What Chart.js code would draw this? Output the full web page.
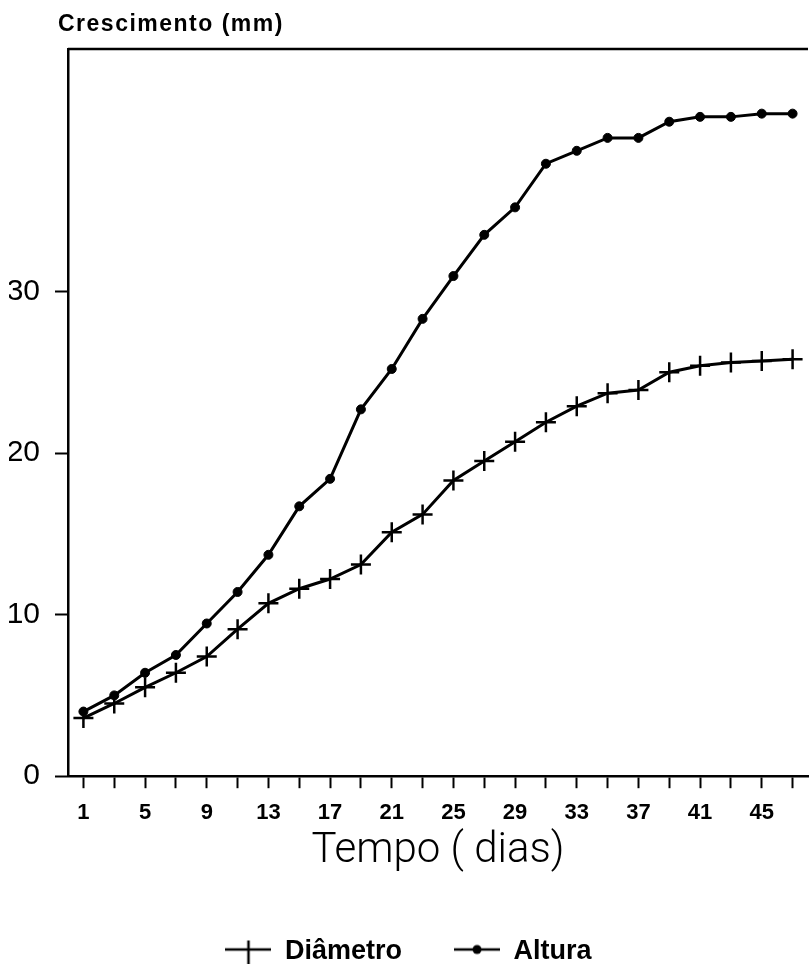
<!DOCTYPE html>
<html>
<head>
<meta charset="utf-8">
<script src="https://cdn.jsdelivr.net/npm/chart.js@4"></script>
<style>
body{margin:0;background:#fff}
</style>
</head>
<body>
<canvas id="grafico" width="812" height="964"></canvas>
<script>
// dias de medicao (um ponto a cada 2 dias)
const dias = [1,3,5,7,9,11,13,15,17,19,21,23,25,27,29,31,33,35,37,39,41,43,45,47]
const diametro = [3.6,4.5,5.5,6.4,7.4,9.1,10.7,11.6,12.2,13.1,15.1,16.2,18.3,19.5,20.7,21.9,22.9,23.7,23.9,25.0,25.4,25.6,25.7,25.8]
const altura = [4.0,5.0,6.4,7.5,9.45,11.4,13.7,16.7,18.4,22.7,25.2,28.3,30.95,33.5,35.2,37.9,38.7,39.5,39.5,40.5,40.8,40.8,41.0,41.0]
const rotulosX = [1,5,9,13,17,21,25,29,33,37,41,45]
const rotulosY = [0,10,20,30]
const titulo = "Crescimento (mm)"
const tituloX = "Tempo ( dias)"

function simbolo(tipo){
    let c=document.createElement('canvas')
    c.width=46; c.height=28
    let g=c.getContext('2d')
    g.strokeStyle='#000'; g.fillStyle='#000'; g.lineWidth=2.5
    g.beginPath(); g.moveTo(0,12); g.lineTo(46,12); g.stroke()
    if(tipo=='cruz'){
        g.beginPath(); g.moveTo(23,3); g.lineTo(23,27); g.stroke()
    } else {
        g.beginPath(); g.arc(23,12,4.5,0,Math.PI*2); g.fill()
    }
    return c
}
const simbolos=[simbolo('cruz'),simbolo('ponto')]

// linha de cima do quadro + titulo do eixo y
const moldura = {
    id: 'moldura',
    afterDraw(chart){
        const {ctx, chartArea} = chart
        ctx.save()
        ctx.strokeStyle='#000'
        ctx.lineWidth=2.5
        ctx.beginPath()
        ctx.moveTo(chartArea.left, chartArea.top)
        ctx.lineTo(chartArea.right, chartArea.top)
        ctx.stroke()
        ctx.font='bold 23px "Liberation Sans"'
        ctx.letterSpacing='1.5px'
        ctx.fillStyle='#000'
        ctx.textBaseline='middle'
        ctx.fillText(titulo, 58, 25)
        ctx.restore()
    }
}

new Chart("grafico", {
    type: "line",
    data: {
        datasets: [{
            label: "Diâmetro",
            data: dias.map((d,i)=>({x:d, y:diametro[i]})),
            borderColor: "#000",
            backgroundColor: "#000",
            borderWidth: 3,
            pointStyle: "cross",
            pointRadius: 10,
            pointBorderWidth: 2.5,
            tension: 0
        },{
            label: "Altura",
            data: dias.map((d,i)=>({x:d, y:altura[i]})),
            borderColor: "#000",
            backgroundColor: "#000",
            borderWidth: 3,
            pointStyle: "circle",
            pointRadius: 4.5,
            pointBorderWidth: 1,
            tension: 0
        }]
    },
    options: {
        responsive: false,
        animation: false,
        layout: { autoPadding: false, padding: { left: 9, right: 4, top: 49, bottom: -11 } },
        plugins: {
            tooltip: { enabled: false },
            legend: {
                position: "bottom",
                labels: {
                    usePointStyle: true,
                    pointStyleWidth: 46,
                    padding: 52,
                    color: "#000",
                    font: { family: "Liberation Sans", weight: "bold", size: 27 },
                    generateLabels(chart){
                        return chart.data.datasets.map((ds,i)=>({
                            text: ds.label,
                            pointStyle: simbolos[i],
                            fillStyle: "#000",
                            strokeStyle: "#000",
                            lineWidth: 0,
                            hidden: false,
                            datasetIndex: i,
                            fontColor: "#000"
                        }))
                    }
                }
            }
        },
        scales: {
            x: {
                type: "linear",
                min: 0,
                max: 48,
                afterBuildTicks(scale){ scale.ticks = dias.map(v=>({value:v})) },
                afterFit(scale){ scale.paddingRight = 0; scale.paddingLeft = 0 },
                ticks: {
                    autoSkip: false,
                    maxRotation: 0,
                    padding: 12,
                    color: "#000",
                    font: { family: "Liberation Sans", weight: "bold", size: 22 },
                    callback: v => rotulosX.includes(v) ? v : ""
                },
                grid: { drawOnChartArea: false, tickLength: 12, tickWidth: 2, tickColor: "#000" },
                border: { color: "#000", width: 2.5 },
                title: {
                    display: true,
                    text: tituloX,
                    color: "#000",
                    font: { family: "Roboto", weight: 300, size: 42 },
                    padding: { top: -12, bottom: 9 }
                }
            },
            y: {
                min: 0,
                max: 45,
                afterBuildTicks(scale){ scale.ticks = rotulosY.map(v=>({value:v})) },
                afterFit(scale){ scale.width = 59 },
                ticks: {
                    padding: 15,
                    color: "#000",
                    font: { family: "Liberation Sans", size: 30 }
                },
                grid: { drawOnChartArea: false, tickLength: 13, tickWidth: 2, tickColor: "#000" },
                border: { color: "#000", width: 2.5 }
            }
        }
    },
    plugins: [moldura]
});
</script>
</body>
</html>
